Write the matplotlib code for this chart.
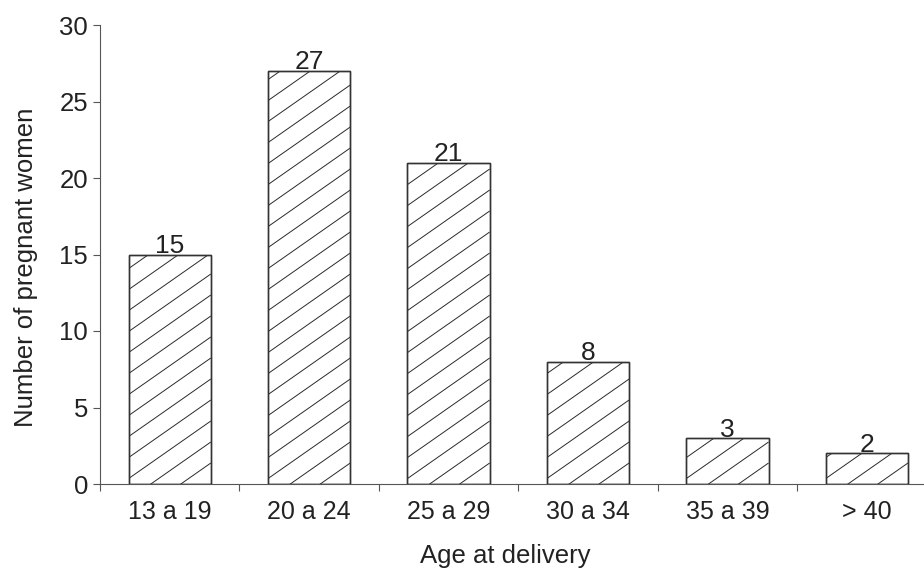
import matplotlib.pyplot as plt
import numpy as np
from matplotlib.collections import LineCollection

# Daten
categories = ['13 a 19', '20 a 24', '25 a 29', '30 a 34', '35 a 39', '> 40']
counts = [15, 27, 21, 8, 3, 2]

plt.rcParams['font.family'] = ['Liberation Sans', 'DejaVu Sans']

fig = plt.figure(figsize=(9.24, 5.73), dpi=100)
ax = fig.add_axes([100 / 924, 1 - 484 / 573, 1 - 100 / 924, (484 - 25) / 573])

xs = np.arange(len(categories))
bars = ax.bar(xs, counts, width=0.59, color='white', edgecolor='#333333',
              linewidth=1.0, zorder=2)

ax.set_xlim(-0.5, 5.41)
ax.set_ylim(0, 30)

# eigene Schraffur: flachere Linien als bei hatch='//'
slope = 0.7      # Steigung in Pixeln
spacing = 21.0   # vertikaler Abstand in Pixeln
inv = ax.transData.inverted()
for rect in bars:
    (px0, py0) = ax.transData.transform((rect.get_x(), rect.get_y()))
    (px1, py1) = ax.transData.transform((rect.get_x() + rect.get_width(),
                                         rect.get_y() + rect.get_height()))
    pw = px1 - px0
    segs = []
    for c in np.arange(-slope * pw, py1 - py0, spacing):
        p = inv.transform([(px0, py0 + c), (px1, py0 + c + slope * pw)])
        segs.append(p)
    lc = LineCollection(segs, colors='#2a2a2a', linewidths=0.7, zorder=2.5)
    ax.add_collection(lc)
    lc.set_clip_path(rect)

# Rahmen der Balken nochmal oben drauf
ax.bar(xs, counts, width=0.59, color='none', edgecolor='#333333',
       linewidth=1.0, zorder=3)

# Werte ueber den Balken
for x, v in zip(xs, counts):
    ax.annotate(str(v), (x, v), xytext=(0, 1.5), textcoords='offset pixels',
                ha='center', va='baseline', fontsize=19, color='#222222')

ax.set_yticks(np.arange(0, 31, 5))
# Ticks auf der X-Achse zwischen den Kategorien
ax.set_xticks(np.arange(-0.5, 5.5, 1))
ax.set_xticklabels([])
ax.set_xticks(xs, minor=True)
ax.set_xticklabels(categories, minor=True)
ax.tick_params(axis='x', which='minor', length=0, pad=11.5, labelsize=18,
               labelcolor='#222222')
ax.tick_params(axis='x', which='major', length=5, width=0.8, color='#555555')
ax.tick_params(axis='y', length=5, width=0.8, color='#555555', labelsize=18.5,
               pad=3.6, labelcolor='#222222')

for s in ['top', 'right']:
    ax.spines[s].set_visible(False)
for s in ['left', 'bottom']:
    ax.spines[s].set_color('#555555')
    ax.spines[s].set_linewidth(0.8)

ax.set_xlabel('Age at delivery', fontsize=18.5, color='#222222')
ax.set_ylabel('Number of pregnant women', fontsize=18.5, color='#222222')
ax.xaxis.set_label_coords(0.4915, -0.1307)
ax.yaxis.set_label_coords(-0.075, 0.473)

fig.savefig('out.png', dpi=100)
